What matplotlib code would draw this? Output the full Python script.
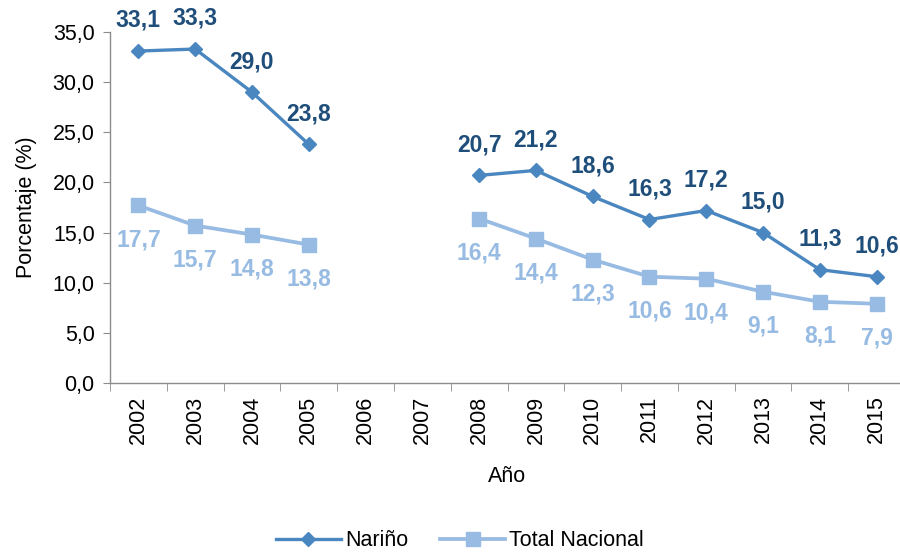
import matplotlib.pyplot as plt
import numpy as np

anios = ['2002', '2003', '2004', '2005', '2006', '2007', '2008',
         '2009', '2010', '2011', '2012', '2013', '2014', '2015']
narino = [33.1, 33.3, 29.0, 23.8, np.nan, np.nan, 20.7,
          21.2, 18.6, 16.3, 17.2, 15.0, 11.3, 10.6]
nacional = [17.7, 15.7, 14.8, 13.8, np.nan, np.nan, 16.4,
            14.4, 12.3, 10.6, 10.4, 9.1, 8.1, 7.9]

plt.rcParams['font.family'] = ['Liberation Sans', 'DejaVu Sans']

COLOR_NAR = '#4A86BF'
COLOR_NAR_TXT = '#1F4E7A'
COLOR_NAC = '#97BBE2'
GRIS = '#8C8C8C'
FS = 15.5


def coma(v):
    return f'{v:.1f}'.replace('.', ',')


fig = plt.figure(figsize=(9, 5.53), dpi=100)
ax = fig.add_axes([110 / 900, 1 - 383 / 553, 795 / 900, 351 / 553])

x = np.arange(len(anios))
ax.plot(x, narino, color=COLOR_NAR, lw=2.4, marker='D', ms=7,
        label='Nariño', zorder=3)
ax.plot(x, nacional, color=COLOR_NAC, lw=2.7, marker='s', ms=10,
        label='Total Nacional', zorder=2)

# Etiquetas de datos
for xi, v in zip(x, narino):
    if not np.isnan(v):
        ax.annotate(coma(v), (xi, v), xytext=(0, 22), textcoords='offset points',
                    ha='center', va='center', fontsize=16.5, fontweight='bold',
                    color=COLOR_NAR_TXT)
for xi, v in zip(x, nacional):
    if not np.isnan(v):
        ax.annotate(coma(v), (xi, v), xytext=(0, -25), textcoords='offset points',
                    ha='center', va='center', fontsize=16.5, fontweight='bold',
                    color=COLOR_NAC)

ax.set_xlim(-0.5, len(anios) - 0.5)
ax.set_ylim(0, 35)
ax.set_yticks(np.arange(0, 36, 5))
ax.set_yticklabels([coma(v) for v in np.arange(0, 36, 5)], fontsize=FS)
ax.set_xticks(x)
ax.set_xticklabels(anios, rotation=90, fontsize=FS)
ax.set_xticks(np.arange(-0.5, len(anios), 1), minor=True)
ax.tick_params(axis='x', which='major', length=0, pad=9)
ax.tick_params(axis='x', which='minor', length=6, color=GRIS, direction='out')
ax.tick_params(axis='y', length=5, color=GRIS, pad=6)

for s in ['top', 'right']:
    ax.spines[s].set_visible(False)
for s in ['left', 'bottom']:
    ax.spines[s].set_color(GRIS)
    ax.spines[s].set_linewidth(1)
ax.spines['bottom'].set_bounds(-0.5, len(anios) - 0.5)

ax.set_ylabel('Porcentaje (%)', fontsize=FS, labelpad=11)
ax.set_xlabel('Año', fontsize=FS, labelpad=16)

fig.legend(loc='center', bbox_to_anchor=(460 / 900, 1 - 541 / 553), ncol=2,
           frameon=False, fontsize=FS, handlelength=3, columnspacing=1.5,
           handletextpad=0.2)

fig.savefig('out.png', dpi=100)
